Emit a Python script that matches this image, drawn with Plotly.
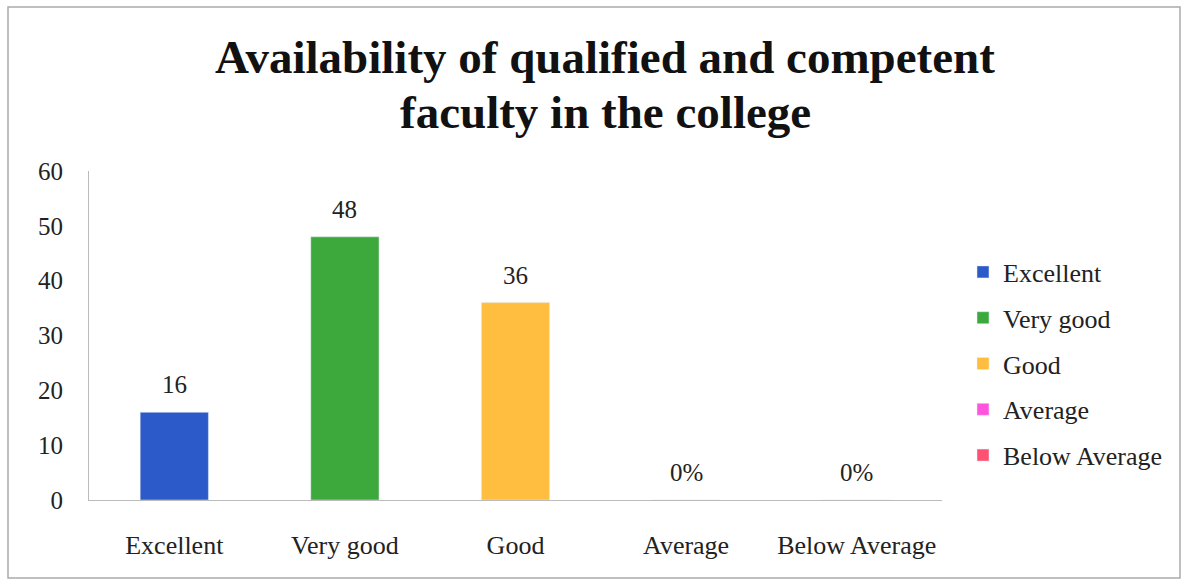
import plotly.graph_objects as go

categories = ["Excellent", "Very good", "Good", "Average", "Below Average"]
values = [16, 48, 36, 0, 0]
labels = ["16", "48", "36", "0%", "0%"]
colors = ["#2C5BC9", "#3DA93D", "#FFBE3F", "#FF55DD", "#FF5272"]
y_ticks = [0, 10, 20, 30, 40, 50, 60]
title_lines = ["Availability of qualified and competent", "faculty in the college"]

W, H = 1188, 583
ml, mr, mt, mb = 89, 246, 171, 83
PW, PH = W - ml - mr, H - mt - mb
FONT = "Liberation Serif"
FS = 26


def px_x(x):
    return (x - ml) / PW


def px_y(y):
    return (H - mb - y) / PH


fig = go.Figure()
for c, v, col in zip(categories, values, colors):
    fig.add_trace(go.Bar(
        x=[c], y=[v], name=c, marker_color=col, width=0.4,
        legendgroup=c,
    ))

for c, v, t in zip(categories, values, labels):
    fig.add_annotation(
        x=c, y=v, text=t, showarrow=False, yanchor="bottom", yshift=12,
        font=dict(family=FONT, size=25, color="#222222"),
    )

for txt, yp in zip(title_lines, [57, 112]):
    fig.add_annotation(
        xref="paper", yref="paper", x=px_x(605), y=px_y(yp),
        xanchor="center", yanchor="middle", showarrow=False,
        text="<b>" + txt + "</b>",
        font=dict(family=FONT, size=47, color="#111111"),
    )

fig.update_layout(
    width=W, height=H,
    margin=dict(l=ml, r=mr, t=mt, b=mb),
    paper_bgcolor="white", plot_bgcolor="white",
    barmode="overlay",
    font=dict(family=FONT, size=FS, color="#222222"),
    legend=dict(
        x=px_x(963), xanchor="left",
        y=px_y(364), yanchor="middle",
        font=dict(family=FONT, size=FS, color="#222222"),
        tracegroupgap=9, itemwidth=30,
        bgcolor="rgba(0,0,0,0)",
    ),
)
fig.update_yaxes(
    range=[0, 60], tickvals=y_ticks, showgrid=False,
    showline=True, linecolor="#BBBBBB", linewidth=1,
    ticks="", ticklabelstandoff=20, zeroline=False,
    tickfont=dict(family=FONT, size=25, color="#222222"),
)
fig.update_xaxes(
    showline=True, linecolor="#BBBBBB", linewidth=1,
    ticks="", ticklabelstandoff=22,
    tickfont=dict(family=FONT, size=FS, color="#222222"),
)
# outer frame
fig.add_shape(
    type="rect", xref="paper", yref="paper",
    x0=px_x(8), x1=px_x(1180), y0=px_y(578), y1=px_y(7),
    line=dict(color="#AAAAAA", width=1.5), fillcolor="rgba(0,0,0,0)",
    layer="below",
)
fig.write_html(
    "out.html",
    config={"displayModeBar": False},
    post_script="document.body.style.margin='0';document.body.style.overflow='hidden';",
)
